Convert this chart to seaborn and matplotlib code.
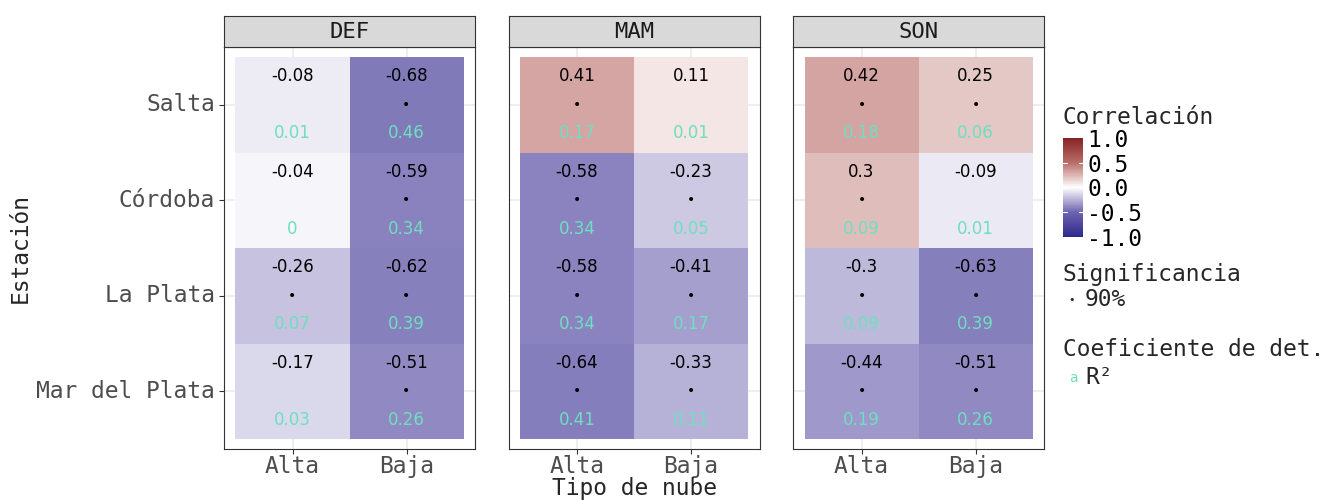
import numpy as np
import pandas as pd
import matplotlib
matplotlib.use("Agg")
import matplotlib.pyplot as plt
import seaborn as sns
from matplotlib.colors import LinearSegmentedColormap, Normalize
import matplotlib.colorbar as mcolorbar

sns.set_style("white")
plt.rcParams['font.family'] = ['DejaVu Sans Mono', 'DejaVu Sans']

seasons = ["DEF", "MAM", "SON"]
stations = ["Salta", "Córdoba", "La Plata", "Mar del Plata"]
clouds = ["Alta", "Baja"]

# correlation [station][cloud]
corr_DEF = [[-0.08, -0.68], [-0.04, -0.59], [-0.26, -0.62], [-0.17, -0.51]]
corr_MAM = [[0.41, 0.11], [-0.58, -0.23], [-0.58, -0.41], [-0.64, -0.33]]
corr_SON = [[0.42, 0.25], [0.3, -0.09], [-0.3, -0.63], [-0.44, -0.51]]

r2_DEF = [["0.01", "0.46"], ["0", "0.34"], ["0.07", "0.39"], ["0.03", "0.26"]]
r2_MAM = [["0.17", "0.01"], ["0.34", "0.05"], ["0.34", "0.17"], ["0.41", "0.11"]]
r2_SON = [["0.18", "0.06"], ["0.09", "0.01"], ["0.09", "0.39"], ["0.19", "0.26"]]

sig_DEF = [[0, 1], [0, 1], [1, 1], [0, 1]]
sig_MAM = [[1, 0], [1, 1], [1, 1], [1, 1]]
sig_SON = [[1, 1], [1, 0], [1, 1], [1, 1]]

corrs = [corr_DEF, corr_MAM, corr_SON]
r2s = [r2_DEF, r2_MAM, r2_SON]
sigs = [sig_DEF, sig_MAM, sig_SON]

nodes = [(0.0, (45/255, 40/255, 140/255)),
         (0.25, (110/255, 100/255, 175/255)),
         (0.5, (1, 1, 1)),
         (0.75, (185/255, 110/255, 105/255)),
         (1.0, (135/255, 35/255, 35/255))]
cmap = LinearSegmentedColormap.from_list("grad2", nodes)
alpha = 0.75
tile_nodes = [(p, tuple(1 - alpha * (1 - c) for c in col)) for p, col in nodes]
tile_cmap = LinearSegmentedColormap.from_list("grad2_tiles", tile_nodes)

W, H = 1327, 500
fig = plt.figure(figsize=(W/100, H/100), dpi=100)

def rect(l, t, r, b):
    return [l/W, 1 - b/H, (r - l)/W, (b - t)/H]

lefts = [224, 508.5, 793]
pw = 251
ptop, pbot = 47, 449
stop = 16
r2col = "#6EDFC0"
grey_txt = "#4D4D4D"
border = "#333333"
FS = 16.5

for k, season in enumerate(seasons):
    l = lefts[k]
    ax = fig.add_axes(rect(l, ptop, l + pw, pbot))
    df = pd.DataFrame(corrs[k], index=stations, columns=clouds)
    sns.heatmap(df, ax=ax, cmap=tile_cmap, vmin=-1, vmax=1, cbar=False,
                linewidths=0, square=False)
    ex = 11.5 / 114
    ey = 10 / 95.5
    ax.set_xlim(-ex, 2 + ex)
    ax.set_ylim(4 + ey, -ey)
    ax.grid(True, color="#EBEBEB", linewidth=1.2)
    ax.set_axisbelow(True)
    for coll in ax.collections:
        coll.set_zorder(2)
    for i in range(4):
        for j in range(2):
            cx, cy = j + 0.5, i + 0.5
            ax.text(cx, cy - 0.3, f"{corrs[k][i][j]:g}", ha="center", va="center",
                    fontsize=12, family="DejaVu Sans", color="black", zorder=3)
            if sigs[k][i][j]:
                ax.text(cx, cy, "•", ha="center", va="center", fontsize=10,
                        family="DejaVu Sans", color="black", zorder=3)
            ax.text(cx, cy + 0.3, r2s[k][i][j], ha="center", va="center",
                    fontsize=12, family="DejaVu Sans", color=r2col, zorder=3)
    ax.set_xlabel("")
    ax.set_ylabel("")
    ax.set_xticks([0.5, 1.5])
    ax.set_xticklabels(clouds, fontsize=FS, color=grey_txt, rotation=0)
    ax.set_yticks([0.5, 1.5, 2.5, 3.5])
    if k == 0:
        ax.set_yticklabels(stations, fontsize=FS, color=grey_txt, rotation=0)
    else:
        ax.set_yticklabels([])
    ax.tick_params(axis="y", length=3.5, width=0.8, color=border, pad=3,
                   left=(k == 0))
    ax.tick_params(axis="x", length=3.5, width=0.8, color=border, pad=1,
                   bottom=True)
    for s in ax.spines.values():
        s.set_visible(True)
        s.set_color(border)
        s.set_linewidth(0.8)
    # strip
    sax = fig.add_axes(rect(l, stop, l + pw, ptop))
    sax.set_facecolor("#D9D9D9")
    sax.set_xticks([]); sax.set_yticks([])
    for s in sax.spines.values():
        s.set_color(border); s.set_linewidth(0.8)
    sax.text(0.5, 0.5, season, ha="center", va="center", fontsize=16,
             color="#1A1A1A", transform=sax.transAxes)

fig.text(634/W, 1 - 489/H, "Tipo de nube", ha="center", va="center", fontsize=FS)
fig.text(20/W, 1 - 248/H, "Estación", ha="center", va="center", fontsize=FS, rotation=90)

# colorbar legend
cax = fig.add_axes(rect(1063, 138, 1083, 237))
cb = mcolorbar.ColorbarBase(cax, cmap=cmap, norm=Normalize(-1, 1), orientation="vertical")
cb.outline.set_visible(False)
cb.set_ticks([-1, -0.5, 0, 0.5, 1])
cb.set_ticklabels(["-1.0", "-0.5", "0.0", "0.5", "1.0"])
cax.tick_params(axis="y", length=0, labelsize=FS, pad=3, colors="black")
for v in [-0.5, 0, 0.5]:
    cax.plot([0, 0.2], [v, v], color="white", lw=0.8, transform=cax.get_yaxis_transform())
    cax.plot([0.8, 1.0], [v, v], color="white", lw=0.8, transform=cax.get_yaxis_transform())
fig.text(1063/W, 1 - 118/H, "Correlación", ha="left", va="center", fontsize=FS)
fig.text(1063/W, 1 - 274/H, "Significancia", ha="left", va="center", fontsize=FS)
fig.text(1072/W, 1 - 300/H, "•", ha="center", va="center", fontsize=8, family="DejaVu Sans")
fig.text(1085/W, 1 - 300/H, "90%", ha="left", va="center", fontsize=FS)
fig.text(1063/W, 1 - 349/H, "Coeficiente de det.", ha="left", va="center", fontsize=FS)
fig.text(1073/W, 1 - 378/H, "a", ha="center", va="center", fontsize=10,
         family="DejaVu Sans", color=r2col)
fig.text(1085/W, 1 - 378/H, "R²", ha="left", va="center", fontsize=FS)

fig.savefig("out.png", dpi=100, facecolor="white")
